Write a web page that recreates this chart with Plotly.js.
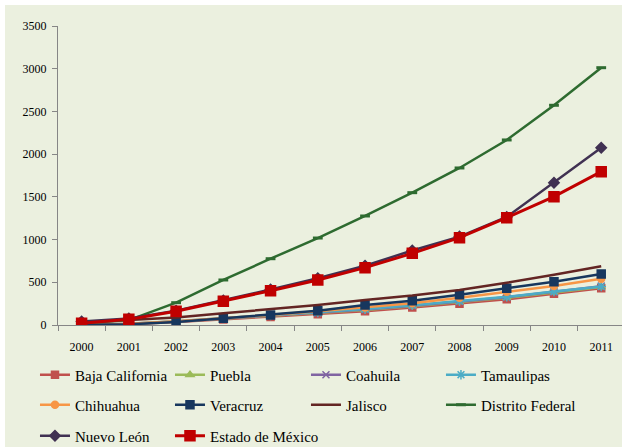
<!DOCTYPE html>
<html>
<head>
<meta charset="utf-8">
<script src="https://cdn.plot.ly/plotly-3.0.1.min.js"></script>
<style>
html,body{margin:0;padding:0;background:#ffffff;width:622px;height:447px;overflow:hidden;}
#chart{position:absolute;left:5px;top:5px;width:617px;height:442px;}
#chart svg text{font-family:"Liberation Serif","Times New Roman",serif !important;}
</style>
</head>
<body>
<div id="chart"></div>
<script>
const years = ["2000","2001","2002","2003","2004","2005","2006","2007","2008","2009","2010","2011"];
const bajaCalifornia = [3, 10, 35, 65, 95, 125, 160, 205, 250, 300, 365, 430];
const puebla = [4, 12, 40, 72, 105, 138, 175, 220, 268, 318, 380, 445];
const coahuila = [5, 14, 42, 75, 108, 142, 180, 226, 275, 325, 388, 455];
const tamaulipas = [5, 14, 44, 78, 112, 146, 186, 232, 280, 330, 392, 450];
const chihuahua = [5, 15, 45, 78, 118, 162, 205, 254, 320, 390, 456, 542];
const veracruz = [2, 8, 35, 78, 117, 167, 234, 284, 355, 429, 507, 597];
const jalisco = [30, 55, 88, 137, 184, 234, 293, 345, 410, 495, 589, 688];
const distritoFederal = [20, 58, 261, 527, 776, 1018, 1276, 1549, 1838, 2166, 2572, 3012];
const nuevoLeon = [40, 75, 168, 288, 415, 548, 694, 872, 1035, 1265, 1666, 2076];
const estadoMexico = [20, 66, 160, 277, 402, 527, 671, 839, 1022, 1256, 1502, 1795];

const FONT = 'Liberation Serif';

function tr(name, y, color, symbol, size, lw, legend) {
  return {
    type: 'scatter', mode: symbol ? 'lines+markers' : 'lines',
    name: name, x: years, y: y, legend: legend,
    line: {color: color, width: lw},
    marker: {symbol: symbol || 'circle', size: size, color: color, line: {color: color, width: 1.5}}
  };
}

const data = [
  tr('Baja California', bajaCalifornia, '#C0504D', 'square', 7, 2.5, 'legend'),
  tr('Puebla', puebla, '#9BBB59', 'triangle-up', 7, 2.5, 'legend2'),
  tr('Coahuila', coahuila, '#8064A2', 'x-thin', 7, 2.5, 'legend3'),
  tr('Tamaulipas', tamaulipas, '#4BACC6', 'asterisk', 8, 2.5, 'legend4'),
  tr('Chihuahua', chihuahua, '#F79646', 'circle', 7, 2.5, 'legend5'),
  tr('Veracruz', veracruz, '#17375E', 'square', 8, 2.5, 'legend6'),
  tr('Jalisco', jalisco, '#632523', null, 0, 2.5, 'legend7'),
  tr('Distrito Federal', distritoFederal, '#2E6B30', 'line-ew', 7, 2.5, 'legend8'),
  tr('Nuevo León', nuevoLeon, '#403152', 'diamond', 8, 2.5, 'legend9'),
  tr('Estado de México', estadoMexico, '#C00000', 'square', 10, 3, 'legend10')
];
data[7].marker.line.width = 3;

const legBase = {
  orientation: 'v', xanchor: 'left', yanchor: 'middle',
  xref: 'container', yref: 'container',
  bgcolor: 'rgba(0,0,0,0)',
  font: {family: FONT, size: 15, color: '#000'},
  itemwidth: 30
};
const colX = [0.0486, 0.2674, 0.4878, 0.7066];
const rowY = [0.163, 0.095, 0.025];

const layout = {
  width: 617, height: 442,
  paper_bgcolor: '#EBF0DF', plot_bgcolor: '#EBF0DF',
  margin: {l: 53, r: 0, t: 21, b: 122, autoexpand: false},
  font: {family: FONT, size: 12, color: '#000'},
  showlegend: true,
  xaxis: {
    type: 'category', range: [-0.5, 11.44], showgrid: false, zeroline: false,
    showline: true, linecolor: '#868686', linewidth: 1, automargin: false,
    ticks: 'outside', tickson: 'boundaries', ticklen: 5, tickcolor: '#868686',
    ticklabelstandoff: 11,
    tickfont: {family: FONT, size: 12, color: '#000'}
  },
  yaxis: {
    range: [0, 3500], tickvals: [0,500,1000,1500,2000,2500,3000,3500],
    showgrid: false, zeroline: false, automargin: false,
    showline: true, linecolor: '#868686', linewidth: 1,
    ticks: 'outside', ticklen: 5, tickcolor: '#868686',
    ticklabelstandoff: 3,
    tickfont: {family: FONT, size: 12, color: '#000'}
  }
};
const legNames = ['legend','legend2','legend3','legend4','legend5','legend6','legend7','legend8','legend9','legend10'];
legNames.forEach(function(n, i) {
  layout[n] = Object.assign({}, legBase, {x: colX[i % 4], y: rowY[Math.floor(i / 4)]});
});

Plotly.newPlot('chart', data, layout, {displayModeBar: false, staticPlot: true});
</script>
</body>
</html>
